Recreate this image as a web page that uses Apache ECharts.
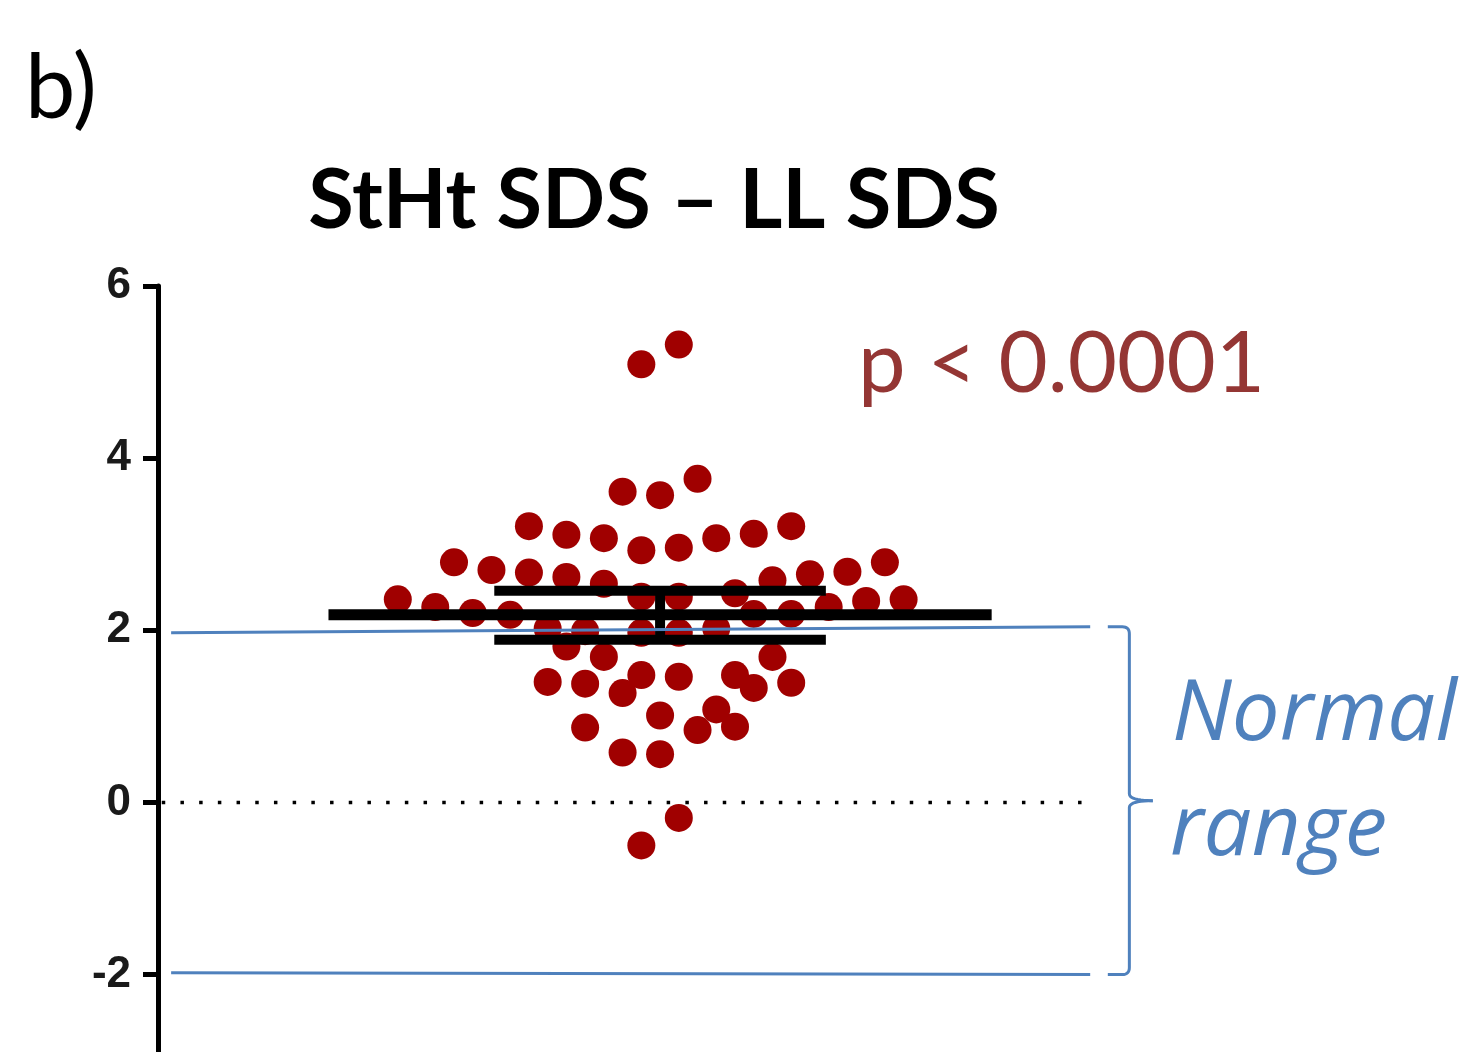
<!DOCTYPE html>
<html><head><meta charset="utf-8">
<script src="https://cdn.jsdelivr.net/npm/echarts@6/dist/echarts.min.js"></script>
<style>html,body{margin:0;padding:0;background:#fff}#c{width:1475px;height:1052px}</style>
</head><body><div id="c"></div>
<script>
// ---- data ----
const panelLabel = 'b)';
const chartTitle = 'StHt SDS – LL SDS';
const pLabel = 'p < 0.0001';
const rangeLabel = ['Normal', 'range'];
const yTicks = [-2, 0, 2, 4, 6];
// beeswarm: horizontal slot (half-dot steps from the centre) and SDS value of each subject
const swarmSlot = [-1, 1, -2, 0, 2, -7, -5, -3, -1, 1, 3, 5, 7, -11, -9, -7, -5, -3, 6, 8, 10, 12,
  -14, -12, -10, -8, -1, 1, 4, 5, 7, 9, 11, 13, -6, -4, -1, 1, 3, -5, -3, 6,
  -6, -4, -2, -1, 1, 4, 5, 7, 0, 3, 2, 4, -4, -2, 0, 1, -1];
const swarmValue = [5.09, 5.32, 3.61, 3.57, 3.76, 3.21, 3.11, 3.07, 2.93, 2.96, 3.07, 3.12, 3.21,
  2.79, 2.70, 2.67, 2.62, 2.54, 2.58, 2.65, 2.68, 2.79,
  2.36, 2.27, 2.20, 2.18, 2.39, 2.39, 2.43, 2.19, 2.19, 2.27, 2.34, 2.36,
  2.02, 1.99, 1.97, 1.97, 2.02, 1.81, 1.69, 1.69,
  1.40, 1.38, 1.27, 1.48, 1.46, 1.48, 1.33, 1.39,
  1.01, 1.08, 0.84, 0.88, 0.87, 0.58, 0.56, -0.18, -0.50];
const meanValue = 2.18;
const ciUpper = 2.46;
const ciLower = 1.89;
const normalUpper = [1.97, 2.04];   // left end, right end of the hand-drawn line
const normalLower = [-1.98, -2.00];
const referenceValue = 0;

(function () {
// ---- layout constants (x in half-dot slot units) ----
const X_MIN = -26.8, X_MAX = 43.5;
const MEAN_HALF = 17.7, CAP_HALF = 8.85;
const REF_START = -26.6, REF_END = 22.5;
const RANGE_START = -26.1, RANGE_END = 22.96;
const BRACE_START = 23.9, BRACE_X = 25.05, BRACE_TIP = 26.3;

const RED = '#a00000', BLUE = '#4f81bd';
const chart = echarts.init(document.getElementById('c'), null, {renderer: 'canvas'});

function seg(name, pts, width, color, z, type) {
  return {
    name, type: 'line', data: pts, symbol: 'none', silent: true, z,
    lineStyle: {color, width, type: type || 'solid', cap: 'butt'},
    animation: false
  };
}

const option = {
  animation: false,
  backgroundColor: '#fff',
  grid: {left: 158, right: 0, top: 286, bottom: 0, containLabel: false},
  xAxis: {type: 'value', min: X_MIN, max: X_MAX, show: false},
  yAxis: {
    type: 'value', min: -2.9, max: 6,
    axisLine: {show: true, onZero: false, lineStyle: {color: '#000', width: 5}},
    axisTick: {show: true, length: 15, lineStyle: {color: '#000', width: 5}, customValues: yTicks},
    axisLabel: {customValues: yTicks, margin: 27, fontSize: 44, fontWeight: 'bold',
      fontFamily: 'Liberation Sans', color: '#1a1a1a'},
    splitLine: {show: false}
  },
  series: [
    seg('reference', [[REF_START, referenceValue], [REF_END, referenceValue]], 3.5, '#000', 1, [3.5, 15.2]),
    {
      name: 'subjects', type: 'scatter', z: 2, symbol: 'circle', symbolSize: 28,
      itemStyle: {color: RED, opacity: 1},
      data: swarmSlot.map((s, i) => [s, swarmValue[i]])
    },
    seg('mean', [[-MEAN_HALF, meanValue], [MEAN_HALF, meanValue]], 11, '#000', 3),
    seg('ciUpper', [[-CAP_HALF, ciUpper], [CAP_HALF, ciUpper]], 10, '#000', 3),
    seg('ciLower', [[-CAP_HALF, ciLower], [CAP_HALF, ciLower]], 10, '#000', 3),
    seg('ciStem', [[0, ciUpper], [0, ciLower]], 10, '#000', 3),
    seg('normalUpper', [[RANGE_START, normalUpper[0]], [RANGE_END, normalUpper[1]]], 3, BLUE, 4),
    seg('normalLower', [[RANGE_START, normalLower[0]], [RANGE_END, normalLower[1]]], 3, BLUE, 4)
  ]
};
chart.setOption(option);

// brace (sampled quadratic curves) and texts
const P = (x, y) => chart.convertToPixel({gridIndex: 0}, [x, y]);
const bTop = P(BRACE_X, normalUpper[1]);
const bBot = P(BRACE_X, normalLower[1]);
const bMid = P(BRACE_X, (normalUpper[1] + normalLower[1]) / 2);
const xs = P(BRACE_START, 0)[0], xt = P(BRACE_TIP, 0)[0];
const xv = bTop[0], yt = bTop[1], yb = bBot[1], ym = bMid[1];
const r = 7;
function quad(p0, c, p1, n) {
  const out = [];
  for (let i = 1; i <= n; i++) {
    const t = i / n, u = 1 - t;
    out.push([u * u * p0[0] + 2 * u * t * c[0] + t * t * p1[0], u * u * p0[1] + 2 * u * t * c[1] + t * t * p1[1]]);
  }
  return out;
}
const upperHalf = [[xs, yt], [xv - r, yt]]
  .concat(quad([xv - r, yt], [xv, yt], [xv, yt + r], 8))
  .concat([[xv, ym - r]])
  .concat(quad([xv, ym - r], [xv, ym], [xt, ym], 10));
const lowerHalf = [[xt, ym]]
  .concat(quad([xt, ym], [xv, ym], [xv, ym + r], 10))
  .concat([[xv, yb - r]])
  .concat(quad([xv, yb - r], [xv, yb], [xv - r, yb], 8))
  .concat([[xs, yb]]);

chart.setOption({
  graphic: [
    {type: 'polyline', shape: {points: upperHalf}, style: {stroke: BLUE, lineWidth: 3, fill: null}, z: 10},
    {type: 'polyline', shape: {points: lowerHalf}, style: {stroke: BLUE, lineWidth: 3, fill: null}, z: 10},
    {type: 'text', x: 25, y: 89, style: {text: panelLabel, font: '90px Lato', fill: '#000',
      align: 'left', verticalAlign: 'middle'}},
    {type: 'text', x: 654, y: 201, style: {text: chartTitle, font: 'bold 83px Lato', fill: '#000',
      align: 'center', verticalAlign: 'middle'}},
    {type: 'text', x: 858, y: 365, style: {text: pLabel, font: '85px Lato', fill: '#943634',
      align: 'left', verticalAlign: 'middle'}},
    {type: 'text', x: 1172, y: 716, style: {text: rangeLabel[0], font: 'italic 85px "Open Sans"', fill: BLUE,
      align: 'left', verticalAlign: 'middle'}},
    {type: 'text', x: 1170, y: 831, style: {text: rangeLabel[1], font: 'italic 85px "Open Sans"', fill: BLUE,
      align: 'left', verticalAlign: 'middle'}}
  ]
});
})();
</script></body></html>
